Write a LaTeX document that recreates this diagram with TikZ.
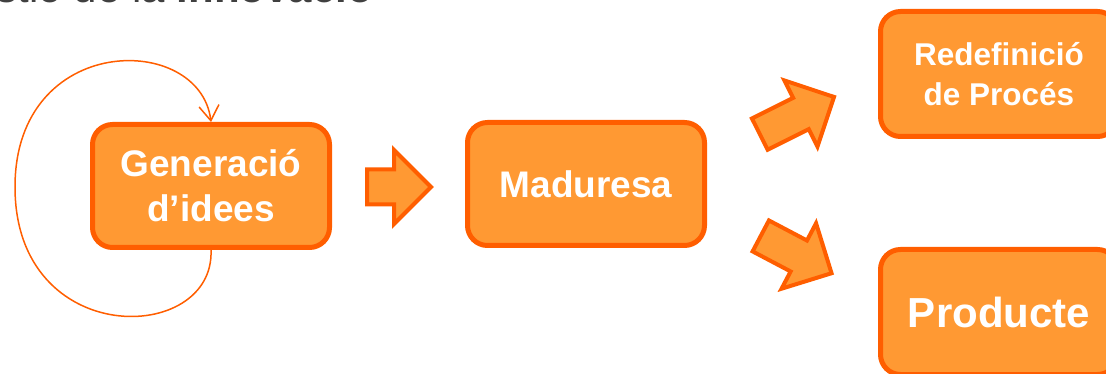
\documentclass[tikz,border=0pt]{standalone}
\usepackage{fontspec}
\setmainfont{Liberation Sans}
\usetikzlibrary{shapes.arrows,arrows.meta}

\definecolor{boxfill}{RGB}{255,153,51}
\definecolor{boxline}{RGB}{255,94,0}
\definecolor{titlegray}{RGB}{64,64,64}

\tikzset{
	stage/.style={draw=boxline, fill=boxfill, line width=5pt, rounded corners=20pt,
		minimum width=237pt, minimum height=123pt, align=center, text=white},
	blockarrow/.style={single arrow, draw=boxline, fill=boxfill, line width=4pt,
		inner sep=15.5pt, single arrow head extend=19.5pt, anchor=tail},
	loopline/.style={draw=boxline, line width=1.5pt, -{Straight Barb[length=15pt,width=20pt]}}
}

\begin{document}
\begin{tikzpicture}[x=1pt,y=-1pt]
		\useasboundingbox (0,0) rectangle (1106,374);
		\clip (0,0) rectangle (1106,374);
		
		% Draw title (cut off at the top)
		\node[anchor=base east, inner sep=0pt, text=titlegray, font=\fontsize{42}{50}\selectfont] (title) at (373,3) {Gestió de la \textbf{innovació}};
		
		% Draw stages
		\node[stage, font=\bfseries\fontsize{37}{45}\selectfont] (gen) at (211,186) {Generació\\d’idees};
		\node[stage, font=\bfseries\fontsize{37}{45}\selectfont] (mad) at (586,184) {Maduresa};
		\node[stage, font=\bfseries\fontsize{31.5}{40}\selectfont, minimum height=125pt, text depth=-8pt] (red) at (999,74) {Redefinició\\de Procés};
		\node[stage, font=\bfseries\fontsize{42}{50}\selectfont, minimum height=125pt] (prod) at (999,312) {Producte};
		
		% Draw block arrows
		\node[blockarrow, minimum height=64pt] (arrA) at (365,187) {};
		\node[blockarrow, minimum height=83pt, rotate=26.6] (arrB) at (758,135) {};
		\node[blockarrow, minimum height=80pt, rotate=-27.8] (arrC) at (759,235) {};
		
		% Draw loop back into idea generation
		\draw[loopline] (gen.south) .. controls (215,345) and (15,350) .. (15,187)
			.. controls (15,32) and (200,32) .. (gen.north);
\end{tikzpicture}
\end{document}
